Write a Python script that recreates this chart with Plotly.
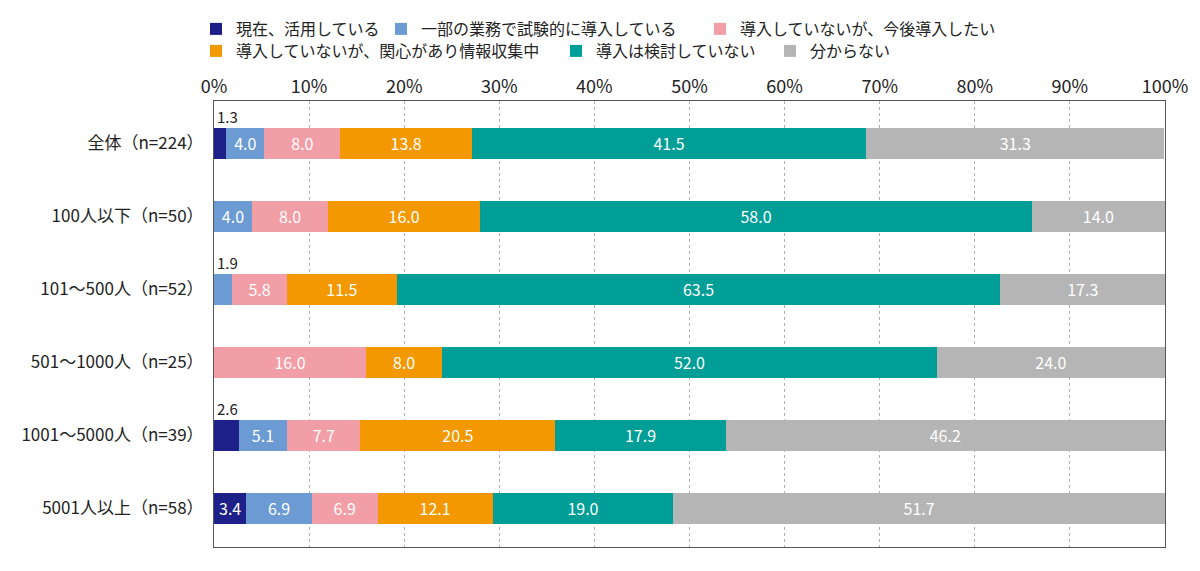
import plotly.graph_objects as go

cat_labels = ["全体（n=224）", "100人以下（n=50）", "101～500人（n=52）", "501～1000人（n=25）",
              "1001～5000人（n=39）", "5001人以上（n=58）"]
series_names = ["現在、活用している", "一部の業務で試験的に導入している", "導入していないが、今後導入したい",
                "導入していないが、関心があり情報収集中", "導入は検討していない", "分からない"]
s1 = [1.3, 0.0, 0.0, 0.0, 2.6, 3.4]
s2 = [4.0, 4.0, 1.9, 0.0, 5.1, 6.9]
s3 = [8.0, 8.0, 5.8, 16.0, 7.7, 6.9]
s4 = [13.8, 16.0, 11.5, 8.0, 20.5, 12.1]
s5 = [41.5, 58.0, 63.5, 52.0, 17.9, 19.0]
s6 = [31.3, 14.0, 17.3, 24.0, 46.2, 51.7]
series = [s1, s2, s3, s4, s5, s6]
colors = ["#1d2088", "#6b9bd2", "#f19ea6", "#f39800", "#009e96", "#b5b5b5"]
tick_vals = [0, 10, 20, 30, 40, 50, 60, 70, 80, 90, 100]
tick_text = [f"{v}%" for v in tick_vals]

FONT = "Noto Sans CJK JP"

# legend item placement (pixels in container): left x, top y
legend_pos = [(196, 12), (381, 12), (700, 12), (196, 34), (556, 34), (770, 34)]
legend_ids = ["legend", "legend2", "legend3", "legend4", "legend5", "legend6"]

fig = go.Figure()
for i, (name, vals, col) in enumerate(zip(series_names, series, colors)):
    txt = [f"{v:.1f}" if v >= 3 else "" for v in vals]
    fig.add_trace(go.Bar(
        y=cat_labels, x=vals, name=name, orientation="h",
        marker=dict(color=col, line=dict(width=0)),
        text=txt, textposition="inside", insidetextanchor="middle",
        textangle=0, constraintext="none",
        insidetextfont=dict(color="white", size=16, family=FONT),
        hoverinfo="skip",
        legend=legend_ids[i],
    ))

# small-value labels above bars
for ci, cat in enumerate(cat_labels):
    start = 0.0
    for vals in series:
        v = vals[ci]
        if 0 < v < 3:
            fig.add_annotation(x=start, y=cat, text=f"{v:.1f}", showarrow=False,
                               xanchor="left", yanchor="middle", xshift=1, yshift=27,
                               font=dict(size=15, color="#222", family=FONT))
        start += v

W, H = 1200, 571
legend_layout = {}
for lid, (lx, ly) in zip(legend_ids, legend_pos):
    legend_layout[lid] = dict(orientation="h", x=lx / W, y=1 - ly / H,
                              xref="container", yref="container",
                              xanchor="left", yanchor="top",
                              font=dict(size=16, family=FONT, color="#222"),
                              bgcolor="rgba(0,0,0,0)")

fig.update_layout(
    width=W, height=H,
    barmode="stack", bargap=0.575,
    plot_bgcolor="white", paper_bgcolor="white",
    margin=dict(l=214, r=35, t=101, b=24, autoexpand=False),
    font=dict(family=FONT, size=15, color="#222"),
    showlegend=True,
    **legend_layout,
)
fig.update_xaxes(side="top", range=[0, 100], tickvals=tick_vals, ticktext=tick_text,
                 showgrid=True, gridcolor="#b0b0b0", griddash="dot", gridwidth=1,
                 showline=True, linecolor="#555", linewidth=1, mirror=True,
                 ticks="", tickfont=dict(size=18, family=FONT, color="#222"),
                 ticklabelstandoff=0, automargin=False,
                 zeroline=False, fixedrange=True)
fig.update_yaxes(range=[5.53, -0.58], showline=True, linecolor="#555", linewidth=1,
                 mirror=True, ticks="", tickfont=dict(size=17, family=FONT, color="#222"),
                 ticklabelstandoff=6, automargin=False, fixedrange=True)

fig.write_html("out.html", config={"displayModeBar": False},
               post_script="document.body.style.margin='0';")
